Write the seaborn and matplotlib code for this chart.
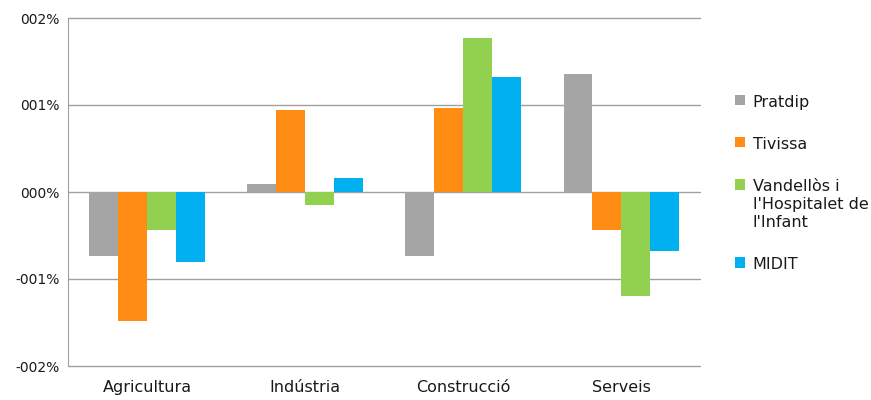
import pandas as pd
import seaborn as sns
import matplotlib.pyplot as plt

# sector change by municipality
sectors = ['Agricultura', 'Indústria', 'Construcció', 'Serveis']
pratdip = [-0.74, 0.09, -0.74, 1.36]
tivissa = [-1.48, 0.94, 0.97, -0.44]
vandellos = [-0.44, -0.15, 1.77, -1.20]
midit = [-0.80, 0.16, 1.32, -0.68]
series_names = ['Pratdip', 'Tivissa', "Vandellòs i\nl'Hospitalet de\nl'Infant", 'MIDIT']
series_colors = ['#A5A5A5', '#FF8C13', '#92D050', '#00B0F0']
y_ticks = [-2, -1, 0, 1, 2]
y_tick_labels = ['-002%', '-001%', '000%', '001%', '002%']

rows = []
for name, values in zip(series_names, [pratdip, tivissa, vandellos, midit]):
    for sector, v in zip(sectors, values):
        rows.append({'sector': sector, 'serie': name, 'valor': v})
df = pd.DataFrame(rows)

sns.set_style('white')
plt.rcParams['font.family'] = ['DejaVu Sans']

fig = plt.figure(figsize=(8.71, 4.0), dpi=100)
ax = fig.add_axes([0.078, 0.085, 0.726, 0.87])

sns.barplot(data=df, x='sector', y='valor', hue='serie', order=sectors,
            hue_order=series_names, palette=series_colors, width=0.73,
            gap=0, saturation=1, linewidth=0, ax=ax)

ax.set_ylim(-2, 2)
ax.set_yticks(y_ticks)
ax.set_yticklabels(y_tick_labels)
ax.set_xlim(-0.5, 3.5)
ax.set_xlabel('')
ax.set_ylabel('')
ax.yaxis.grid(True, color='#A0A0A0', linewidth=1)
for line in ax.get_ygridlines():
    line.set_clip_on(False)
ax.set_axisbelow(True)
for side in ['top', 'right', 'bottom']:
    ax.spines[side].set_visible(False)
ax.spines['left'].set_color('#A0A0A0')
ax.tick_params(axis='both', length=0, colors='#1a1a1a')
ax.tick_params(axis='y', labelsize=10, pad=6)
ax.tick_params(axis='x', labelsize=11.5, pad=10)

handles, labels = ax.get_legend_handles_labels()
leg = ax.legend(handles, labels, loc='center left', bbox_to_anchor=(1.055, 0.525),
                frameon=False, fontsize=11.5, borderaxespad=0, borderpad=0,
                handlelength=0.65, handleheight=0.65, handletextpad=0.45,
                labelspacing=1.7)
for text in leg.get_texts():
    text.set_color('#1a1a1a')
    text.set_linespacing(1.25)
# put the colour square next to the first line of a wrapped label
for column in leg._legend_handle_box.get_children():
    for item in column.get_children():
        item.align = 'top'

plt.savefig('out.png', dpi=100)
